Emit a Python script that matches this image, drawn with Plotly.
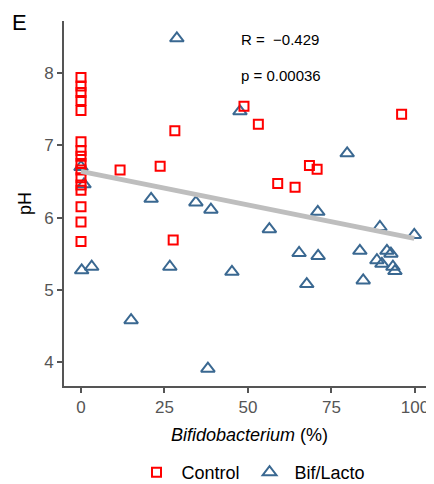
import numpy as np
import plotly.graph_objects as go

# Control group
ctrl_x = [0, 0, 0, 0, 0, 0, 0, 0, 0, 0, 0, 0, 0, 0, 0, 0,
          11.7, 23.7, 27.6, 28.1, 48.8, 53.1, 58.9, 64.1, 68.4, 70.7, 96.0]
ctrl_y = [7.94, 7.82, 7.73, 7.62, 7.48, 7.05, 6.93, 6.85, 6.75, 6.66, 6.55, 6.45, 6.38, 6.15, 5.94, 5.67,
          6.66, 6.71, 5.69, 7.20, 7.54, 7.29, 6.47, 6.42, 6.72, 6.67, 7.43]

# Bif/Lacto group
bif_x = [28.7, 47.6, 79.7, 0.0, 0.9, 21.0, 34.4, 38.9, 70.9, 56.4, 89.5, 99.8,
         65.3, 71.0, 83.5, 91.6, 92.8, 88.6, 90.1, 93.4, 94.0,
         0.2, 3.2, 26.6, 45.2, 67.6, 84.5, 15.0, 38.0]
bif_y = [8.48, 7.47, 6.89, 6.70, 6.46, 6.26, 6.21, 6.11, 6.08, 5.84, 5.87, 5.76,
         5.51, 5.47, 5.54, 5.54, 5.50, 5.41, 5.36, 5.32, 5.26,
         5.27, 5.32, 5.32, 5.25, 5.08, 5.13, 4.58, 3.91]

x_ticks = [0, 25, 50, 75, 100]
y_ticks = [4, 5, 6, 7, 8]
stat_r = "R =\u00a0\u00a0\u22120.429"
stat_p = "p = 0.00036"

all_x = np.array(ctrl_x + bif_x)
all_y = np.array(ctrl_y + bif_y)
slope, intercept = np.polyfit(all_x, all_y, 1)
fit_x = np.array([all_x.min(), all_x.max()])
fit_y = slope * fit_x + intercept

AX = "#555555"
FONT = "Liberation Sans, Arial, sans-serif"

fig = go.Figure()
fig.add_trace(go.Scatter(
    x=bif_x, y=bif_y, mode="markers", name="Bif/Lacto", legendrank=2,
    marker=dict(symbol="triangle-up-open", size=12, color="#3A6891",
                line=dict(color="#3A6891", width=2))))
fig.add_trace(go.Scatter(
    x=ctrl_x, y=ctrl_y, mode="markers", name="Control", legendrank=1,
    marker=dict(symbol="square-open", size=9, color="#FF0000",
                line=dict(color="#FF0000", width=2))))
fig.add_trace(go.Scatter(
    x=fit_x, y=fit_y, mode="lines",
    line=dict(color="#BEBEBE", width=5), showlegend=False, hoverinfo="skip"))

# page body has an 8px margin, so the figure is 8px smaller and shifted
fig.update_layout(
    width=426, height=476,
    margin=dict(l=56, r=4, t=13, b=97.5, autoexpand=False),
    paper_bgcolor="white", plot_bgcolor="white",
    font=dict(family=FONT, size=17, color="black"),
    showlegend=True,
    legend=dict(orientation="h", x=0.511, xanchor="center", y=-0.237, yanchor="middle",
                font=dict(size=18, color="black"), itemwidth=40, tracegroupgap=0),
    xaxis=dict(range=[-5.09, 104.5], tickvals=x_ticks, showgrid=False, zeroline=False,
               showline=True, linecolor=AX, linewidth=2, automargin=False,
               ticks="outside", ticklen=5, tickwidth=2, tickcolor=AX,
               tickfont=dict(size=17, color=AX)),
    yaxis=dict(range=[3.67, 8.72], tickvals=y_ticks, showgrid=False, zeroline=False,
               showline=True, linecolor=AX, linewidth=2, automargin=False,
               ticks="outside", ticklen=5, tickwidth=2, tickcolor=AX,
               tickfont=dict(size=17, color=AX)),
    annotations=[
        dict(text="E", xref="paper", yref="paper", x=(19 - 64) / 366, y=(386.5 - 22) / 365.8,
             xanchor="center", yanchor="middle", showarrow=False, font=dict(size=22, color="black")),
        dict(text=stat_r, xref="x", yref="y", x=47.4, y=8.47, xanchor="left", yanchor="middle",
             showarrow=False, font=dict(size=15, color="black")),
        dict(text=stat_p, xref="x", yref="y", x=47.4, y=7.97, xanchor="left", yanchor="middle",
             showarrow=False, font=dict(size=15, color="black")),
        dict(text="pH", xref="paper", yref="paper", x=(25 - 64) / 366, y=(386.5 - 204) / 365.8,
             xanchor="center", yanchor="middle", textangle=-90, showarrow=False,
             font=dict(size=18, color="black")),
        dict(text="<i>Bifidobacterium</i> (%)", xref="paper", yref="paper",
             x=(249 - 64) / 366, y=(386.5 - 436) / 365.8,
             xanchor="center", yanchor="middle", showarrow=False, font=dict(size=18, color="black")),
    ],
)

fig.write_html("out.html")
